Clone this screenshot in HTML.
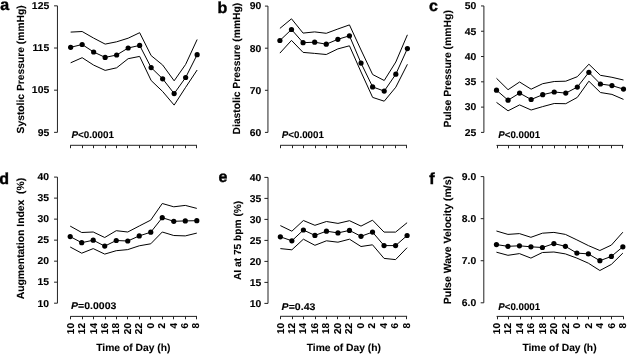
<!DOCTYPE html><html><head><meta charset="utf-8"><style>html,body{margin:0;padding:0;background:#fff;width:629px;height:354px;overflow:hidden}svg{display:block;will-change:transform}text{font-family:"Liberation Sans",sans-serif;text-rendering:geometricPrecision}text[font-weight="bold"]{stroke:#000;stroke-width:0.1px}</style></head><body>
<svg width="629" height="354" viewBox="0 0 629 354">
<g><text x="0.2" y="10.1" font-size="16" font-weight="bold" style="stroke-width:0.4px">a</text><path d="M57.45 5.85 V132.35" stroke="#222" stroke-width="1" fill="none"/><path d="M54.05 5.85 H57.45" stroke="#222" stroke-width="1" fill="none"/><text transform="translate(49.2 9.15) scale(1.04 1)" font-size="10.0" font-weight="bold" text-anchor="end">125</text><path d="M54.05 48.02 H57.45" stroke="#222" stroke-width="1" fill="none"/><text transform="translate(49.2 51.32) scale(1.04 1)" font-size="10.0" font-weight="bold" text-anchor="end">115</text><path d="M54.05 90.18 H57.45" stroke="#222" stroke-width="1" fill="none"/><text transform="translate(49.2 93.48) scale(1.04 1)" font-size="10.0" font-weight="bold" text-anchor="end">105</text><path d="M54.05 132.35 H57.45" stroke="#222" stroke-width="1" fill="none"/><text transform="translate(49.2 135.65) scale(1.04 1)" font-size="10.0" font-weight="bold" text-anchor="end">95</text><text transform="translate(23.7 69.35) rotate(-90)" font-size="10.3" font-weight="bold" text-anchor="middle" xml:space="preserve">Systolic Pressure (mmHg)</text><path d="M70.2 145.3 H197.0" stroke="#222" stroke-width="1" fill="none"/><path d="M70.50 145.3 V148.20000000000002" stroke="#222" stroke-width="1" fill="none"/><path d="M82.50 145.3 V148.20000000000002" stroke="#222" stroke-width="1" fill="none"/><path d="M93.50 145.3 V148.20000000000002" stroke="#222" stroke-width="1" fill="none"/><path d="M105.50 145.3 V148.20000000000002" stroke="#222" stroke-width="1" fill="none"/><path d="M116.50 145.3 V148.20000000000002" stroke="#222" stroke-width="1" fill="none"/><path d="M127.50 145.3 V148.20000000000002" stroke="#222" stroke-width="1" fill="none"/><path d="M139.50 145.3 V148.20000000000002" stroke="#222" stroke-width="1" fill="none"/><path d="M150.50 145.3 V148.20000000000002" stroke="#222" stroke-width="1" fill="none"/><path d="M162.50 145.3 V148.20000000000002" stroke="#222" stroke-width="1" fill="none"/><path d="M173.50 145.3 V148.20000000000002" stroke="#222" stroke-width="1" fill="none"/><path d="M185.50 145.3 V148.20000000000002" stroke="#222" stroke-width="1" fill="none"/><path d="M196.50 145.3 V148.20000000000002" stroke="#222" stroke-width="1" fill="none"/><text x="71.4" y="137.9" font-size="9.7" font-weight="bold" textLength="42.5" lengthAdjust="spacingAndGlyphs"><tspan font-style="italic">P</tspan>&lt;0.0001</text><polyline points="70.65,32.10 82.15,31.50 93.65,38.10 105.15,44.10 116.65,41.80 128.15,38.20 139.65,32.70 151.15,55.60 162.65,65.00 174.15,80.80 185.65,64.40 197.15,39.50" stroke="#000" stroke-width="1.0" fill="none" stroke-linejoin="round"/><polyline points="70.65,62.80 82.15,57.70 93.65,65.10 105.15,70.40 116.65,67.80 128.15,58.70 139.65,56.40 151.15,80.50 162.65,91.50 174.15,105.10 185.65,87.30 197.15,70.00" stroke="#000" stroke-width="1.0" fill="none" stroke-linejoin="round"/><polyline points="70.65,47.30 82.15,44.50 93.65,52.00 105.15,57.40 116.65,55.00 128.15,48.00 139.65,45.40 151.15,67.60 162.65,78.80 174.15,93.60 185.65,77.50 197.15,54.70" stroke="#000" stroke-width="1.0" fill="none" stroke-linejoin="round"/><circle cx="70.65" cy="47.30" r="2.6" fill="#000"/><circle cx="82.15" cy="44.50" r="2.6" fill="#000"/><circle cx="93.65" cy="52.00" r="2.6" fill="#000"/><circle cx="105.15" cy="57.40" r="2.6" fill="#000"/><circle cx="116.65" cy="55.00" r="2.6" fill="#000"/><circle cx="128.15" cy="48.00" r="2.6" fill="#000"/><circle cx="139.65" cy="45.40" r="2.6" fill="#000"/><circle cx="151.15" cy="67.60" r="2.6" fill="#000"/><circle cx="162.65" cy="78.80" r="2.6" fill="#000"/><circle cx="174.15" cy="93.60" r="2.6" fill="#000"/><circle cx="185.65" cy="77.50" r="2.6" fill="#000"/><circle cx="197.15" cy="54.70" r="2.6" fill="#000"/></g>
<g><text x="217.5" y="13.4" font-size="16" font-weight="bold" style="stroke-width:0.4px">b</text><path d="M267.95 6.10 V132.40" stroke="#222" stroke-width="1" fill="none"/><path d="M264.95 6.10 H267.95" stroke="#222" stroke-width="1" fill="none"/><text transform="translate(261.2 9.40) scale(1.04 1)" font-size="10.0" font-weight="bold" text-anchor="end">90</text><path d="M264.95 48.20 H267.95" stroke="#222" stroke-width="1" fill="none"/><text transform="translate(261.2 51.50) scale(1.04 1)" font-size="10.0" font-weight="bold" text-anchor="end">80</text><path d="M264.95 90.30 H267.95" stroke="#222" stroke-width="1" fill="none"/><text transform="translate(261.2 93.60) scale(1.04 1)" font-size="10.0" font-weight="bold" text-anchor="end">70</text><path d="M264.95 132.40 H267.95" stroke="#222" stroke-width="1" fill="none"/><text transform="translate(261.2 135.70) scale(1.04 1)" font-size="10.0" font-weight="bold" text-anchor="end">60</text><text transform="translate(240.1 68.6) rotate(-90)" font-size="10.3" font-weight="bold" text-anchor="middle" xml:space="preserve">Diastolic Pressure (mmHg)</text><path d="M280.2 145.3 H407.0" stroke="#222" stroke-width="1" fill="none"/><path d="M280.50 145.3 V148.20000000000002" stroke="#222" stroke-width="1" fill="none"/><path d="M292.50 145.3 V148.20000000000002" stroke="#222" stroke-width="1" fill="none"/><path d="M303.50 145.3 V148.20000000000002" stroke="#222" stroke-width="1" fill="none"/><path d="M315.50 145.3 V148.20000000000002" stroke="#222" stroke-width="1" fill="none"/><path d="M326.50 145.3 V148.20000000000002" stroke="#222" stroke-width="1" fill="none"/><path d="M337.50 145.3 V148.20000000000002" stroke="#222" stroke-width="1" fill="none"/><path d="M349.50 145.3 V148.20000000000002" stroke="#222" stroke-width="1" fill="none"/><path d="M360.50 145.3 V148.20000000000002" stroke="#222" stroke-width="1" fill="none"/><path d="M372.50 145.3 V148.20000000000002" stroke="#222" stroke-width="1" fill="none"/><path d="M383.50 145.3 V148.20000000000002" stroke="#222" stroke-width="1" fill="none"/><path d="M395.50 145.3 V148.20000000000002" stroke="#222" stroke-width="1" fill="none"/><path d="M406.50 145.3 V148.20000000000002" stroke="#222" stroke-width="1" fill="none"/><text x="281.8" y="137.7" font-size="9.7" font-weight="bold" textLength="42.1" lengthAdjust="spacingAndGlyphs"><tspan font-style="italic">P</tspan>&lt;0.0001</text><polyline points="279.90,28.40 291.49,18.80 303.08,33.10 314.67,31.90 326.26,33.30 337.85,29.00 349.45,24.90 361.04,50.00 372.63,74.50 384.22,80.50 395.81,62.00 407.40,34.80" stroke="#000" stroke-width="1.0" fill="none" stroke-linejoin="round"/><polyline points="279.90,53.10 291.49,40.40 303.08,52.40 314.67,53.40 326.26,54.50 337.85,48.90 349.45,45.80 361.04,72.00 372.63,97.40 384.22,101.20 395.81,87.20 407.40,64.30" stroke="#000" stroke-width="1.0" fill="none" stroke-linejoin="round"/><polyline points="279.90,40.50 291.49,29.50 303.08,42.70 314.67,42.20 326.26,44.20 337.85,39.30 349.45,35.80 361.04,63.10 372.63,86.90 384.22,91.10 395.81,74.20 407.40,48.60" stroke="#000" stroke-width="1.0" fill="none" stroke-linejoin="round"/><circle cx="279.90" cy="40.50" r="2.6" fill="#000"/><circle cx="291.49" cy="29.50" r="2.6" fill="#000"/><circle cx="303.08" cy="42.70" r="2.6" fill="#000"/><circle cx="314.67" cy="42.20" r="2.6" fill="#000"/><circle cx="326.26" cy="44.20" r="2.6" fill="#000"/><circle cx="337.85" cy="39.30" r="2.6" fill="#000"/><circle cx="349.45" cy="35.80" r="2.6" fill="#000"/><circle cx="361.04" cy="63.10" r="2.6" fill="#000"/><circle cx="372.63" cy="86.90" r="2.6" fill="#000"/><circle cx="384.22" cy="91.10" r="2.6" fill="#000"/><circle cx="395.81" cy="74.20" r="2.6" fill="#000"/><circle cx="407.40" cy="48.60" r="2.6" fill="#000"/></g>
<g><text x="429" y="11" font-size="16" font-weight="bold" style="stroke-width:0.4px">c</text><path d="M483.9 5.95 V132.40" stroke="#222" stroke-width="1" fill="none"/><path d="M481.00 5.95 H483.9" stroke="#222" stroke-width="1" fill="none"/><text transform="translate(476.2 9.25) scale(1.04 1)" font-size="10.0" font-weight="bold" text-anchor="end">50</text><path d="M481.00 31.24 H483.9" stroke="#222" stroke-width="1" fill="none"/><text transform="translate(476.2 34.54) scale(1.04 1)" font-size="10.0" font-weight="bold" text-anchor="end">45</text><path d="M481.00 56.53 H483.9" stroke="#222" stroke-width="1" fill="none"/><text transform="translate(476.2 59.83) scale(1.04 1)" font-size="10.0" font-weight="bold" text-anchor="end">40</text><path d="M481.00 81.82 H483.9" stroke="#222" stroke-width="1" fill="none"/><text transform="translate(476.2 85.12) scale(1.04 1)" font-size="10.0" font-weight="bold" text-anchor="end">35</text><path d="M481.00 107.11 H483.9" stroke="#222" stroke-width="1" fill="none"/><text transform="translate(476.2 110.41) scale(1.04 1)" font-size="10.0" font-weight="bold" text-anchor="end">30</text><path d="M481.00 132.40 H483.9" stroke="#222" stroke-width="1" fill="none"/><text transform="translate(476.2 135.70) scale(1.04 1)" font-size="10.0" font-weight="bold" text-anchor="end">25</text><text transform="translate(450.8 68.8) rotate(-90)" font-size="10.42" font-weight="bold" text-anchor="middle" xml:space="preserve">Pulse Pressure (mmHg)</text><path d="M496.5 145.4 H623.3" stroke="#222" stroke-width="1" fill="none"/><path d="M497.50 145.4 V148.3" stroke="#222" stroke-width="1" fill="none"/><path d="M508.50 145.4 V148.3" stroke="#222" stroke-width="1" fill="none"/><path d="M519.50 145.4 V148.3" stroke="#222" stroke-width="1" fill="none"/><path d="M531.50 145.4 V148.3" stroke="#222" stroke-width="1" fill="none"/><path d="M542.50 145.4 V148.3" stroke="#222" stroke-width="1" fill="none"/><path d="M554.50 145.4 V148.3" stroke="#222" stroke-width="1" fill="none"/><path d="M565.50 145.4 V148.3" stroke="#222" stroke-width="1" fill="none"/><path d="M577.50 145.4 V148.3" stroke="#222" stroke-width="1" fill="none"/><path d="M588.50 145.4 V148.3" stroke="#222" stroke-width="1" fill="none"/><path d="M599.50 145.4 V148.3" stroke="#222" stroke-width="1" fill="none"/><path d="M611.50 145.4 V148.3" stroke="#222" stroke-width="1" fill="none"/><path d="M622.50 145.4 V148.3" stroke="#222" stroke-width="1" fill="none"/><text x="498.3" y="137.7" font-size="9.7" font-weight="bold" textLength="41.9" lengthAdjust="spacingAndGlyphs"><tspan font-style="italic">P</tspan>&lt;0.0001</text><polyline points="496.50,78.30 508.05,89.70 519.59,82.00 531.14,89.20 542.68,83.70 554.23,81.50 565.77,81.20 577.32,76.70 588.86,64.20 600.41,75.30 611.95,77.30 623.50,80.00" stroke="#000" stroke-width="1.0" fill="none" stroke-linejoin="round"/><polyline points="496.50,102.40 508.05,110.80 519.59,104.90 531.14,110.00 542.68,106.60 554.23,103.50 565.77,103.70 577.32,97.40 588.86,81.20 600.41,92.50 611.95,94.40 623.50,99.40" stroke="#000" stroke-width="1.0" fill="none" stroke-linejoin="round"/><polyline points="496.50,90.20 508.05,100.20 519.59,93.10 531.14,99.50 542.68,94.70 554.23,92.00 565.77,93.10 577.32,87.10 588.86,72.30 600.41,84.00 611.95,85.60 623.50,89.10" stroke="#000" stroke-width="1.0" fill="none" stroke-linejoin="round"/><circle cx="496.50" cy="90.20" r="2.6" fill="#000"/><circle cx="508.05" cy="100.20" r="2.6" fill="#000"/><circle cx="519.59" cy="93.10" r="2.6" fill="#000"/><circle cx="531.14" cy="99.50" r="2.6" fill="#000"/><circle cx="542.68" cy="94.70" r="2.6" fill="#000"/><circle cx="554.23" cy="92.00" r="2.6" fill="#000"/><circle cx="565.77" cy="93.10" r="2.6" fill="#000"/><circle cx="577.32" cy="87.10" r="2.6" fill="#000"/><circle cx="588.86" cy="72.30" r="2.6" fill="#000"/><circle cx="600.41" cy="84.00" r="2.6" fill="#000"/><circle cx="611.95" cy="85.60" r="2.6" fill="#000"/><circle cx="623.50" cy="89.10" r="2.6" fill="#000"/></g>
<g><text x="-0.7" y="184" font-size="16" font-weight="bold" style="stroke-width:0.4px">d</text><path d="M57.45 177.10 V303.20" stroke="#222" stroke-width="1" fill="none"/><path d="M54.05 177.10 H57.45" stroke="#222" stroke-width="1" fill="none"/><text transform="translate(49.1 180.40) scale(1.04 1)" font-size="10.0" font-weight="bold" text-anchor="end">40</text><path d="M54.05 198.12 H57.45" stroke="#222" stroke-width="1" fill="none"/><text transform="translate(49.1 201.42) scale(1.04 1)" font-size="10.0" font-weight="bold" text-anchor="end">35</text><path d="M54.05 219.13 H57.45" stroke="#222" stroke-width="1" fill="none"/><text transform="translate(49.1 222.43) scale(1.04 1)" font-size="10.0" font-weight="bold" text-anchor="end">30</text><path d="M54.05 240.15 H57.45" stroke="#222" stroke-width="1" fill="none"/><text transform="translate(49.1 243.45) scale(1.04 1)" font-size="10.0" font-weight="bold" text-anchor="end">25</text><path d="M54.05 261.17 H57.45" stroke="#222" stroke-width="1" fill="none"/><text transform="translate(49.1 264.47) scale(1.04 1)" font-size="10.0" font-weight="bold" text-anchor="end">20</text><path d="M54.05 282.18 H57.45" stroke="#222" stroke-width="1" fill="none"/><text transform="translate(49.1 285.48) scale(1.04 1)" font-size="10.0" font-weight="bold" text-anchor="end">15</text><path d="M54.05 303.20 H57.45" stroke="#222" stroke-width="1" fill="none"/><text transform="translate(49.1 306.50) scale(1.04 1)" font-size="10.0" font-weight="bold" text-anchor="end">10</text><text transform="translate(23.5 238.55) rotate(-90)" font-size="10.38" font-weight="bold" text-anchor="middle" xml:space="preserve">Augmentation Index  (%)</text><path d="M70.3 316.4 H197.0" stroke="#222" stroke-width="1" fill="none"/><path d="M70.50 316.4 V319.29999999999995" stroke="#222" stroke-width="1" fill="none"/><text transform="translate(73.70 323.0) rotate(-90) scale(1.0 1)" font-size="10.0" font-weight="bold" text-anchor="end">10</text><path d="M82.50 316.4 V319.29999999999995" stroke="#222" stroke-width="1" fill="none"/><text transform="translate(85.13 323.0) rotate(-90) scale(1.0 1)" font-size="10.0" font-weight="bold" text-anchor="end">12</text><path d="M93.50 316.4 V319.29999999999995" stroke="#222" stroke-width="1" fill="none"/><text transform="translate(96.55 323.0) rotate(-90) scale(1.0 1)" font-size="10.0" font-weight="bold" text-anchor="end">14</text><path d="M105.50 316.4 V319.29999999999995" stroke="#222" stroke-width="1" fill="none"/><text transform="translate(107.98 323.0) rotate(-90) scale(1.0 1)" font-size="10.0" font-weight="bold" text-anchor="end">16</text><path d="M116.50 316.4 V319.29999999999995" stroke="#222" stroke-width="1" fill="none"/><text transform="translate(119.41 323.0) rotate(-90) scale(1.0 1)" font-size="10.0" font-weight="bold" text-anchor="end">18</text><path d="M127.50 316.4 V319.29999999999995" stroke="#222" stroke-width="1" fill="none"/><text transform="translate(130.84 323.0) rotate(-90) scale(1.0 1)" font-size="10.0" font-weight="bold" text-anchor="end">20</text><path d="M139.50 316.4 V319.29999999999995" stroke="#222" stroke-width="1" fill="none"/><text transform="translate(142.26 323.0) rotate(-90) scale(1.0 1)" font-size="10.0" font-weight="bold" text-anchor="end">22</text><path d="M150.50 316.4 V319.29999999999995" stroke="#222" stroke-width="1" fill="none"/><text transform="translate(153.69 323.0) rotate(-90) scale(1.0 1)" font-size="10.0" font-weight="bold" text-anchor="end">0</text><path d="M162.50 316.4 V319.29999999999995" stroke="#222" stroke-width="1" fill="none"/><text transform="translate(165.12 323.0) rotate(-90) scale(1.0 1)" font-size="10.0" font-weight="bold" text-anchor="end">2</text><path d="M173.50 316.4 V319.29999999999995" stroke="#222" stroke-width="1" fill="none"/><text transform="translate(176.55 323.0) rotate(-90) scale(1.0 1)" font-size="10.0" font-weight="bold" text-anchor="end">4</text><path d="M185.50 316.4 V319.29999999999995" stroke="#222" stroke-width="1" fill="none"/><text transform="translate(187.97 323.0) rotate(-90) scale(1.0 1)" font-size="10.0" font-weight="bold" text-anchor="end">6</text><path d="M196.50 316.4 V319.29999999999995" stroke="#222" stroke-width="1" fill="none"/><text transform="translate(199.40 323.0) rotate(-90) scale(1.0 1)" font-size="10.0" font-weight="bold" text-anchor="end">8</text><text x="133.35" y="350.8" font-size="10.3" font-weight="bold" text-anchor="middle">Time of Day (h)</text><text x="71.1" y="309.0" font-size="9.7" font-weight="bold" textLength="45.3" lengthAdjust="spacingAndGlyphs"><tspan font-style="italic">P</tspan>=0.0003</text><polyline points="70.20,226.10 81.71,232.50 93.22,232.00 104.73,237.50 116.24,230.70 127.75,232.00 139.25,226.00 150.76,220.10 162.27,203.50 173.78,206.80 185.29,205.40 196.80,208.40" stroke="#000" stroke-width="1.0" fill="none" stroke-linejoin="round"/><polyline points="70.20,247.00 81.71,253.20 93.22,248.60 104.73,254.10 116.24,250.70 127.75,249.60 139.25,245.80 150.76,243.80 162.27,232.00 173.78,235.50 185.29,235.90 196.80,233.10" stroke="#000" stroke-width="1.0" fill="none" stroke-linejoin="round"/><polyline points="70.20,236.60 81.71,242.70 93.22,240.20 104.73,246.10 116.24,240.50 127.75,241.00 139.25,235.90 150.76,232.20 162.27,217.70 173.78,221.30 185.29,220.90 196.80,220.70" stroke="#000" stroke-width="1.0" fill="none" stroke-linejoin="round"/><circle cx="70.20" cy="236.60" r="2.6" fill="#000"/><circle cx="81.71" cy="242.70" r="2.6" fill="#000"/><circle cx="93.22" cy="240.20" r="2.6" fill="#000"/><circle cx="104.73" cy="246.10" r="2.6" fill="#000"/><circle cx="116.24" cy="240.50" r="2.6" fill="#000"/><circle cx="127.75" cy="241.00" r="2.6" fill="#000"/><circle cx="139.25" cy="235.90" r="2.6" fill="#000"/><circle cx="150.76" cy="232.20" r="2.6" fill="#000"/><circle cx="162.27" cy="217.70" r="2.6" fill="#000"/><circle cx="173.78" cy="221.30" r="2.6" fill="#000"/><circle cx="185.29" cy="220.90" r="2.6" fill="#000"/><circle cx="196.80" cy="220.70" r="2.6" fill="#000"/></g>
<g><text x="218.5" y="181.6" font-size="16" font-weight="bold" style="stroke-width:0.4px">e</text><path d="M268.0 177.40 V303.40" stroke="#222" stroke-width="1" fill="none"/><path d="M264.40 177.40 H268.0" stroke="#222" stroke-width="1" fill="none"/><text transform="translate(261.2 180.70) scale(1.04 1)" font-size="10.0" font-weight="bold" text-anchor="end">40</text><path d="M264.40 198.40 H268.0" stroke="#222" stroke-width="1" fill="none"/><text transform="translate(261.2 201.70) scale(1.04 1)" font-size="10.0" font-weight="bold" text-anchor="end">35</text><path d="M264.40 219.40 H268.0" stroke="#222" stroke-width="1" fill="none"/><text transform="translate(261.2 222.70) scale(1.04 1)" font-size="10.0" font-weight="bold" text-anchor="end">30</text><path d="M264.40 240.40 H268.0" stroke="#222" stroke-width="1" fill="none"/><text transform="translate(261.2 243.70) scale(1.04 1)" font-size="10.0" font-weight="bold" text-anchor="end">25</text><path d="M264.40 261.40 H268.0" stroke="#222" stroke-width="1" fill="none"/><text transform="translate(261.2 264.70) scale(1.04 1)" font-size="10.0" font-weight="bold" text-anchor="end">20</text><path d="M264.40 282.40 H268.0" stroke="#222" stroke-width="1" fill="none"/><text transform="translate(261.2 285.70) scale(1.04 1)" font-size="10.0" font-weight="bold" text-anchor="end">15</text><path d="M264.40 303.40 H268.0" stroke="#222" stroke-width="1" fill="none"/><text transform="translate(261.2 306.70) scale(1.04 1)" font-size="10.0" font-weight="bold" text-anchor="end">10</text><text transform="translate(240.5 240.4) rotate(-90)" font-size="10.2" font-weight="bold" text-anchor="middle" xml:space="preserve">AI at 75 bpm (%)</text><path d="M280.2 316.3 H407.1" stroke="#222" stroke-width="1" fill="none"/><path d="M280.50 316.3 V319.2" stroke="#222" stroke-width="1" fill="none"/><text transform="translate(283.60 322.90000000000003) rotate(-90) scale(1.0 1)" font-size="10.0" font-weight="bold" text-anchor="end">10</text><path d="M292.50 316.3 V319.2" stroke="#222" stroke-width="1" fill="none"/><text transform="translate(295.05 322.90000000000003) rotate(-90) scale(1.0 1)" font-size="10.0" font-weight="bold" text-anchor="end">12</text><path d="M303.50 316.3 V319.2" stroke="#222" stroke-width="1" fill="none"/><text transform="translate(306.49 322.90000000000003) rotate(-90) scale(1.0 1)" font-size="10.0" font-weight="bold" text-anchor="end">14</text><path d="M315.50 316.3 V319.2" stroke="#222" stroke-width="1" fill="none"/><text transform="translate(317.94 322.90000000000003) rotate(-90) scale(1.0 1)" font-size="10.0" font-weight="bold" text-anchor="end">16</text><path d="M326.50 316.3 V319.2" stroke="#222" stroke-width="1" fill="none"/><text transform="translate(329.38 322.90000000000003) rotate(-90) scale(1.0 1)" font-size="10.0" font-weight="bold" text-anchor="end">18</text><path d="M337.50 316.3 V319.2" stroke="#222" stroke-width="1" fill="none"/><text transform="translate(340.83 322.90000000000003) rotate(-90) scale(1.0 1)" font-size="10.0" font-weight="bold" text-anchor="end">20</text><path d="M349.50 316.3 V319.2" stroke="#222" stroke-width="1" fill="none"/><text transform="translate(352.27 322.90000000000003) rotate(-90) scale(1.0 1)" font-size="10.0" font-weight="bold" text-anchor="end">22</text><path d="M360.50 316.3 V319.2" stroke="#222" stroke-width="1" fill="none"/><text transform="translate(363.72 322.90000000000003) rotate(-90) scale(1.0 1)" font-size="10.0" font-weight="bold" text-anchor="end">0</text><path d="M372.50 316.3 V319.2" stroke="#222" stroke-width="1" fill="none"/><text transform="translate(375.16 322.90000000000003) rotate(-90) scale(1.0 1)" font-size="10.0" font-weight="bold" text-anchor="end">2</text><path d="M383.50 316.3 V319.2" stroke="#222" stroke-width="1" fill="none"/><text transform="translate(386.61 322.90000000000003) rotate(-90) scale(1.0 1)" font-size="10.0" font-weight="bold" text-anchor="end">4</text><path d="M395.50 316.3 V319.2" stroke="#222" stroke-width="1" fill="none"/><text transform="translate(398.05 322.90000000000003) rotate(-90) scale(1.0 1)" font-size="10.0" font-weight="bold" text-anchor="end">6</text><path d="M406.50 316.3 V319.2" stroke="#222" stroke-width="1" fill="none"/><text transform="translate(409.50 322.90000000000003) rotate(-90) scale(1.0 1)" font-size="10.0" font-weight="bold" text-anchor="end">8</text><text x="343.85" y="350.8" font-size="10.3" font-weight="bold" text-anchor="middle">Time of Day (h)</text><text x="281.6" y="309.7" font-size="9.7" font-weight="bold" textLength="33.8" lengthAdjust="spacingAndGlyphs"><tspan font-style="italic">P</tspan>=0.43</text><polyline points="280.35,225.60 291.87,231.20 303.40,220.50 314.92,225.30 326.44,221.50 337.96,223.40 349.49,220.70 361.01,226.10 372.53,220.20 384.05,232.10 395.58,232.10 407.10,222.70" stroke="#000" stroke-width="1.0" fill="none" stroke-linejoin="round"/><polyline points="280.35,248.60 291.87,249.80 303.40,239.20 314.92,245.30 326.44,240.80 337.96,242.20 349.49,239.20 361.01,246.50 372.53,244.80 384.05,258.40 395.58,259.60 407.10,247.70" stroke="#000" stroke-width="1.0" fill="none" stroke-linejoin="round"/><polyline points="280.35,236.80 291.87,240.80 303.40,230.00 314.92,235.40 326.44,231.20 337.96,232.90 349.49,230.40 361.01,236.30 372.53,232.10 384.05,245.60 395.58,245.60 407.10,235.50" stroke="#000" stroke-width="1.0" fill="none" stroke-linejoin="round"/><circle cx="280.35" cy="236.80" r="2.6" fill="#000"/><circle cx="291.87" cy="240.80" r="2.6" fill="#000"/><circle cx="303.40" cy="230.00" r="2.6" fill="#000"/><circle cx="314.92" cy="235.40" r="2.6" fill="#000"/><circle cx="326.44" cy="231.20" r="2.6" fill="#000"/><circle cx="337.96" cy="232.90" r="2.6" fill="#000"/><circle cx="349.49" cy="230.40" r="2.6" fill="#000"/><circle cx="361.01" cy="236.30" r="2.6" fill="#000"/><circle cx="372.53" cy="232.10" r="2.6" fill="#000"/><circle cx="384.05" cy="245.60" r="2.6" fill="#000"/><circle cx="395.58" cy="245.60" r="2.6" fill="#000"/><circle cx="407.10" cy="235.50" r="2.6" fill="#000"/></g>
<g><text x="429.3" y="184" font-size="16" font-weight="bold" style="stroke-width:0.4px">f</text><path d="M483.8 176.60 V302.80" stroke="#222" stroke-width="1" fill="none"/><path d="M480.70 176.60 H483.8" stroke="#222" stroke-width="1" fill="none"/><text transform="translate(476.3 179.90) scale(1.04 1)" font-size="10.0" font-weight="bold" text-anchor="end">9.0</text><path d="M480.70 218.67 H483.8" stroke="#222" stroke-width="1" fill="none"/><text transform="translate(476.3 221.97) scale(1.04 1)" font-size="10.0" font-weight="bold" text-anchor="end">8.0</text><path d="M480.70 260.73 H483.8" stroke="#222" stroke-width="1" fill="none"/><text transform="translate(476.3 264.03) scale(1.04 1)" font-size="10.0" font-weight="bold" text-anchor="end">7.0</text><path d="M480.70 302.80 H483.8" stroke="#222" stroke-width="1" fill="none"/><text transform="translate(476.3 306.10) scale(1.04 1)" font-size="10.0" font-weight="bold" text-anchor="end">6.0</text><text transform="translate(450.8 240.1) rotate(-90)" font-size="10.48" font-weight="bold" text-anchor="middle" xml:space="preserve">Pulse Wave Velocity (m/s)</text><path d="M496.6 316.4 H623.6" stroke="#222" stroke-width="1" fill="none"/><path d="M497.50 316.4 V319.29999999999995" stroke="#222" stroke-width="1" fill="none"/><text transform="translate(500.00 323.0) rotate(-90) scale(1.0 1)" font-size="10.0" font-weight="bold" text-anchor="end">10</text><path d="M508.50 316.4 V319.29999999999995" stroke="#222" stroke-width="1" fill="none"/><text transform="translate(511.45 323.0) rotate(-90) scale(1.0 1)" font-size="10.0" font-weight="bold" text-anchor="end">12</text><path d="M520.50 316.4 V319.29999999999995" stroke="#222" stroke-width="1" fill="none"/><text transform="translate(522.91 323.0) rotate(-90) scale(1.0 1)" font-size="10.0" font-weight="bold" text-anchor="end">14</text><path d="M531.50 316.4 V319.29999999999995" stroke="#222" stroke-width="1" fill="none"/><text transform="translate(534.36 323.0) rotate(-90) scale(1.0 1)" font-size="10.0" font-weight="bold" text-anchor="end">16</text><path d="M542.50 316.4 V319.29999999999995" stroke="#222" stroke-width="1" fill="none"/><text transform="translate(545.82 323.0) rotate(-90) scale(1.0 1)" font-size="10.0" font-weight="bold" text-anchor="end">18</text><path d="M554.50 316.4 V319.29999999999995" stroke="#222" stroke-width="1" fill="none"/><text transform="translate(557.27 323.0) rotate(-90) scale(1.0 1)" font-size="10.0" font-weight="bold" text-anchor="end">20</text><path d="M565.50 316.4 V319.29999999999995" stroke="#222" stroke-width="1" fill="none"/><text transform="translate(568.73 323.0) rotate(-90) scale(1.0 1)" font-size="10.0" font-weight="bold" text-anchor="end">22</text><path d="M577.50 316.4 V319.29999999999995" stroke="#222" stroke-width="1" fill="none"/><text transform="translate(580.18 323.0) rotate(-90) scale(1.0 1)" font-size="10.0" font-weight="bold" text-anchor="end">0</text><path d="M588.50 316.4 V319.29999999999995" stroke="#222" stroke-width="1" fill="none"/><text transform="translate(591.64 323.0) rotate(-90) scale(1.0 1)" font-size="10.0" font-weight="bold" text-anchor="end">2</text><path d="M600.50 316.4 V319.29999999999995" stroke="#222" stroke-width="1" fill="none"/><text transform="translate(603.09 323.0) rotate(-90) scale(1.0 1)" font-size="10.0" font-weight="bold" text-anchor="end">4</text><path d="M611.50 316.4 V319.29999999999995" stroke="#222" stroke-width="1" fill="none"/><text transform="translate(614.55 323.0) rotate(-90) scale(1.0 1)" font-size="10.0" font-weight="bold" text-anchor="end">6</text><path d="M623.50 316.4 V319.29999999999995" stroke="#222" stroke-width="1" fill="none"/><text transform="translate(626.00 323.0) rotate(-90) scale(1.0 1)" font-size="10.0" font-weight="bold" text-anchor="end">8</text><text x="559.50" y="350.8" font-size="10.3" font-weight="bold" text-anchor="middle">Time of Day (h)</text><text x="498.3" y="309.9" font-size="9.7" font-weight="bold" textLength="41.9" lengthAdjust="spacingAndGlyphs"><tspan font-style="italic">P</tspan>&lt;0.0001</text><polyline points="496.45,231.00 507.94,234.40 519.43,233.60 530.92,237.30 542.41,233.20 553.90,232.40 565.40,234.40 576.89,239.90 588.38,245.60 599.87,250.50 611.36,245.10 622.85,232.20" stroke="#000" stroke-width="1.0" fill="none" stroke-linejoin="round"/><polyline points="496.45,252.20 507.94,255.30 519.43,253.60 530.92,258.10 542.41,252.50 553.90,252.00 565.40,253.90 576.89,258.10 588.38,263.20 599.87,270.50 611.36,264.40 622.85,253.10" stroke="#000" stroke-width="1.0" fill="none" stroke-linejoin="round"/><polyline points="496.45,244.60 507.94,246.30 519.43,245.80 530.92,246.80 542.41,247.50 553.90,243.60 565.40,246.30 576.89,253.10 588.38,253.90 599.87,260.70 611.36,256.40 622.85,246.80" stroke="#000" stroke-width="1.0" fill="none" stroke-linejoin="round"/><circle cx="496.45" cy="244.60" r="2.6" fill="#000"/><circle cx="507.94" cy="246.30" r="2.6" fill="#000"/><circle cx="519.43" cy="245.80" r="2.6" fill="#000"/><circle cx="530.92" cy="246.80" r="2.6" fill="#000"/><circle cx="542.41" cy="247.50" r="2.6" fill="#000"/><circle cx="553.90" cy="243.60" r="2.6" fill="#000"/><circle cx="565.40" cy="246.30" r="2.6" fill="#000"/><circle cx="576.89" cy="253.10" r="2.6" fill="#000"/><circle cx="588.38" cy="253.90" r="2.6" fill="#000"/><circle cx="599.87" cy="260.70" r="2.6" fill="#000"/><circle cx="611.36" cy="256.40" r="2.6" fill="#000"/><circle cx="622.85" cy="246.80" r="2.6" fill="#000"/></g>
</svg></body></html>
